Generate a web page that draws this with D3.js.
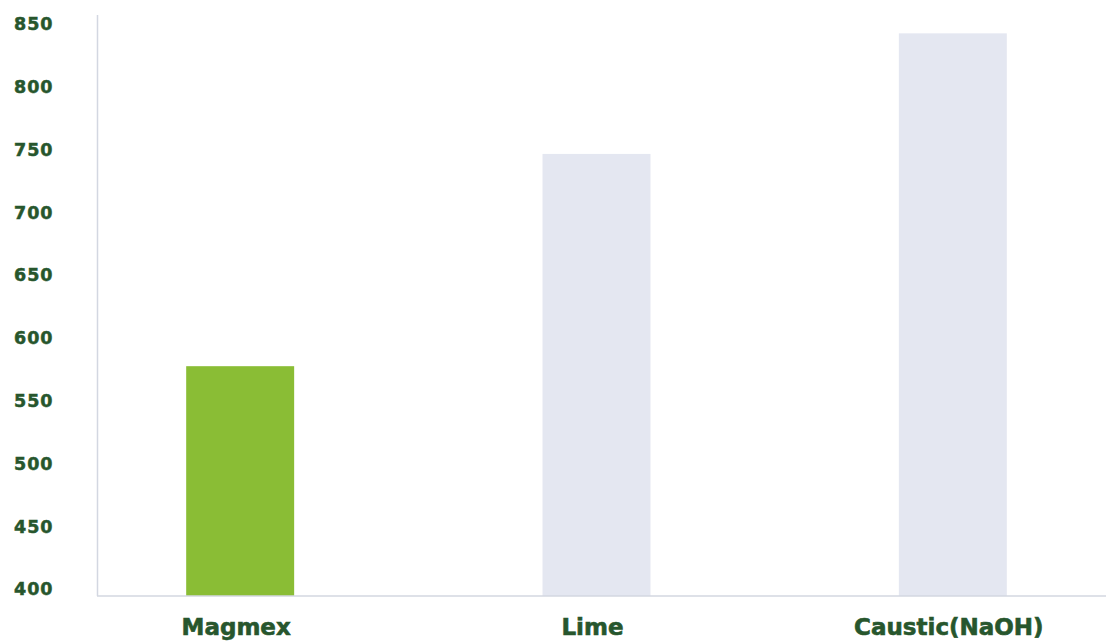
<!DOCTYPE html>
<html>
<head>
<meta charset="utf-8">
<script src="https://cdn.jsdelivr.net/npm/d3@7"></script>
<style>
  html, body { margin: 0; padding: 0; background: #ffffff; }
  svg { display: block; }
</style>
</head>
<body>
<svg id="chart" width="1106" height="643"></svg>
<script>
const categories = ["Magmex", "Lime", "Caustic(NaOH)"];
const values = [577, 746, 842];
const barColors = ["#8abd35", "#e4e7f1", "#e4e7f1"];
const yTicks = [400, 450, 500, 550, 600, 650, 700, 750, 800, 850];

const svg = d3.select("#chart");
const W = 1106, H = 643;
const plotTop = 15, plotBottom = 596, plotLeft = 98;
const textColor = "#27562d";
const axisColor = "#d3d7e1";

const y = d3.scaleLinear().domain([400, 850]).range([588.5, 23.3]);
const x = d3.scaleBand().domain(categories).range([62, 1131])
  .paddingInner(0.697).paddingOuter(0.3485);

// bars
svg.append("g").selectAll("rect").data(categories).join("rect")
  .attr("x", d => x(d))
  .attr("width", x.bandwidth())
  .attr("y", (d, i) => y(values[i]))
  .attr("height", (d, i) => plotBottom - y(values[i]))
  .attr("fill", (d, i) => barColors[i]);

// axis lines
svg.append("line").attr("x1", plotLeft - 0.5).attr("x2", plotLeft - 0.5)
  .attr("y1", plotTop).attr("y2", plotBottom)
  .attr("stroke", axisColor).attr("stroke-width", 1.5);
svg.append("line").attr("x1", plotLeft - 1).attr("x2", W)
  .attr("y1", plotBottom).attr("y2", plotBottom)
  .attr("stroke", axisColor).attr("stroke-width", 1.5);

// y labels
const yAxis = d3.axisLeft(y).tickValues(yTicks).tickSize(0).tickPadding(0);
const yg = svg.append("g").attr("transform", "translate(14,0)").call(yAxis);
yg.select(".domain").remove();
yg.selectAll("text")
  .attr("text-anchor", "start")
  .attr("x", 0)
  .attr("dy", "0.36em")
  .attr("fill", textColor)
  .attr("stroke", textColor)
  .attr("stroke-width", 0.5)
  .style("font-family", "'DejaVu Sans', sans-serif")
  .style("font-weight", "bold")
  .style("font-size", "17.5px")
  .style("letter-spacing", "1px");

// x labels
const xAxis = d3.axisBottom(x).tickSize(0).tickPadding(0);
const xg = svg.append("g").attr("transform", `translate(-4,${plotBottom})`).call(xAxis);
xg.select(".domain").remove();
xg.selectAll("text")
  .attr("y", 39)
  .attr("dy", 0)
  .attr("fill", textColor)
  .attr("stroke", textColor)
  .attr("stroke-width", 0.6)
  .style("font-family", "'DejaVu Sans', sans-serif")
  .style("font-weight", "bold")
  .style("font-size", "23px");
</script>
</body>
</html>
